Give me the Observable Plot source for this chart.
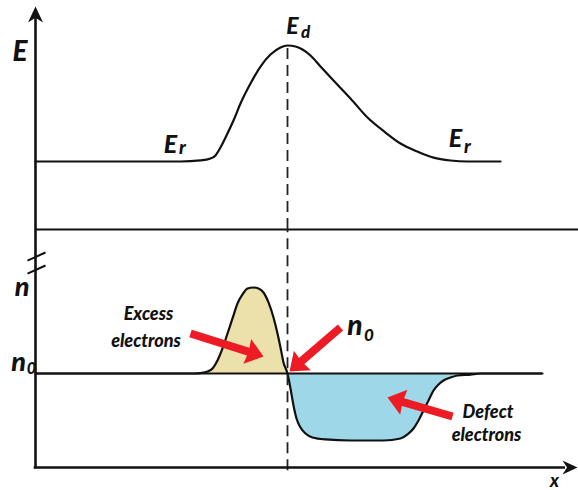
<!DOCTYPE html>
<html><head><meta charset="utf-8">
<script src="https://cdn.jsdelivr.net/npm/d3@7"></script>
<script src="https://cdn.jsdelivr.net/npm/@observablehq/plot@0.6"></script>
<style>
html,body{margin:0;padding:0;background:#fff;overflow:hidden}
#chart{position:relative;width:578px;height:490px}
#chart svg{position:absolute;left:0;top:0;background:transparent}
</style></head><body><div id="chart"></div>
<script>
// Top panel: energy E along position x (Er = 0, Ed = 1)
const eX = [0,65,115,145,165,175,180,185,191,198,205,215,225,235,245,252,260,267,275,285,298,315,332,350,365,382,398,415,432,465];
const eVal = [0,0,0,0,0.009,0.026,0.052,0.121,0.224,0.353,0.5,0.672,0.819,0.922,0.983,1,0.991,0.966,0.914,0.819,0.698,0.543,0.379,0.25,0.155,0.086,0.034,0.009,0,0];
// Bottom panel: electron density n along x (n0 = 0, n = 1)
const nX = [0,160,165,172,177,182,187,192,197,202,207,212,218,223,228,233,238,242,245,248,252,255,258,261,265,270,277,290,315,348,365,372,378,383,388,393,398,403,408,415,422,435,445,507];
const nVal = [0,0,0.006,0.023,0.058,0.151,0.291,0.465,0.64,0.814,0.919,0.988,1,0.988,0.942,0.826,0.651,0.465,0.302,0.128,0,-0.174,-0.372,-0.523,-0.628,-0.698,-0.744,-0.767,-0.779,-0.779,-0.756,-0.709,-0.64,-0.547,-0.43,-0.314,-0.198,-0.128,-0.081,-0.047,-0.023,-0.012,0,0];
const junctionX = 252;
// Annotation arrows (tail -> tip) in the bottom panel
const arrowTail = [[155,0.465],[305,0.535],[417,-0.5]];
const arrowTip = [[228,0.198],[254,0.023],[352,-0.279]];

const ePts = eX.map((x,i) => ({x, v: eVal[i]}));
const nPts = nX.map((x,i) => ({x, v: nVal[i]}));

const W = 578, H = 490;
const xOpts = {domain: [0, 540], range: [35, 575]};
const eOpts = {domain: [-2.836, 1.388], range: [490, 0]};
const nOpts = {domain: [-1.3605, 4.3372], range: [490, 0]};

const font = {fontFamily: "Lato, 'Open Sans', sans-serif", fontWeight: 900, fontStyle: "italic", fill: "#111"};
const label = (x, y, t, size) => Plot.text([{x, y, t}], {x: "x", y: "y", text: "t", fontSize: size, ...font});

const head = (hw, notch) => ({draw(ctx, size) {
  const L = Math.sqrt(size / Math.PI);
  ctx.moveTo(0, 0); ctx.lineTo(-L, -hw * L); ctx.lineTo(-notch * L, 0); ctx.lineTo(-L, hw * L); ctx.closePath();
}});
const axisHead = head(0.47, 0.7);
const redHead = head(0.76, 0.92);

const xs = Plot.scale({x: xOpts}), ns = Plot.scale({y: nOpts});
const HEAD = 17;
const arrows = arrowTail.map(([tx, ty], i) => {
  const [hx, hy] = arrowTip[i];
  const px0 = xs.apply(tx), py0 = ns.apply(ty), px1 = xs.apply(hx), py1 = ns.apply(hy);
  const len = Math.hypot(px1 - px0, py1 - py0);
  const f = (len - HEAD * 0.8) / len;
  return {tx, ty, hx, hy,
    ex: xs.invert(px0 + (px1 - px0) * f), ey: ns.invert(py0 + (py1 - py0) * f),
    angle: Math.atan2(py1 - py0, px1 - px0) * 180 / Math.PI};
});

const common = {width: W, height: H, margin: 0, x: {...xOpts, axis: null}, style: {background: "transparent", overflow: "visible"}};

const energyPlot = Plot.plot({...common, y: {...eOpts, axis: null},
  marks: [
    Plot.ruleY([-0.586], {x1: 0, x2: 543, stroke: "#111", strokeWidth: 2.2}),
    Plot.ruleX([0], {y1: -0.586, y2: 1.25, stroke: "#111", strokeWidth: 2.6}),
    Plot.dot([{x: 0, y: 1.336}], {x: "x", y: "y", r: 16, symbol: axisHead, rotate: -90, fill: "#111", stroke: "none"}),
    Plot.line(ePts, {x: "x", y: "v", curve: "monotone-x", stroke: "#111", strokeWidth: 2.2}),
    Plot.ruleX([junctionX], {y1: -0.586, y2: 1, stroke: "#222", strokeWidth: 1.8, strokeDasharray: "11,6"}),
    label(-15.5, 0.948, "E", 28),
    label(257, 1.165, "E", 23), label(270, 1.108, "d", 17),
    label(135, 0.146, "E", 25), label(147, 0.117, "r", 19),
    label(420, 0.19, "E", 25), label(432, 0.126, "r", 19)
  ]});

const densityPlot = Plot.plot({...common, y: {...nOpts, axis: null},
  marks: [
    Plot.areaY(nPts, {filter: d => d.x >= 160 && d.x <= junctionX, x: "x", y1: 0, y2: "v", curve: "monotone-x", fill: "#ece0ab"}),
    Plot.areaY(nPts, {filter: d => d.x >= junctionX && d.x <= 445, x: "x", y1: 0, y2: "v", curve: "monotone-x", fill: "#9ed8e8"}),
    Plot.ruleY([0], {x1: 0, x2: 507, stroke: "#111", strokeWidth: 2}),
    Plot.line(nPts, {x: "x", y: "v", curve: "monotone-x", stroke: "#111", strokeWidth: 2.2}),
    Plot.ruleX([junctionX], {y1: -1.13, y2: 1.674, stroke: "#222", strokeWidth: 1.8, strokeDasharray: "11,6"}),
    Plot.ruleX([0], {y1: -1.108, y2: 1.674, stroke: "#111", strokeWidth: 2.6}),
    Plot.ruleY([-1.093], {x1: -1.3, x2: 530, stroke: "#111", strokeWidth: 2.6}),
    Plot.dot([{x: 542, y: -1.093}], {x: "x", y: "y", r: 15, symbol: axisHead, rotate: 0, fill: "#111", stroke: "none"}),
    Plot.link([{c: 1.36}, {c: 1.209}], {x1: -8, x2: 10, y1: d => d.c - 0.047, y2: d => d.c + 0.047, stroke: "#111", strokeWidth: 2}),
    label(-13.5, 1.003, "n", 27),
    label(-17, 0.131, "n", 27), label(-4, 0.055, "0", 16),
    label(319.5, 0.547, "n", 28), label(333.5, 0.44, "0", 17),
    label(113, 0.685, "Excess", 18), label(110.5, 0.376, "electrons", 18),
    label(452.5, -0.455, "Defect", 18), label(451, -0.716, "electrons", 18),
    label(519, -1.258, "x", 18),
    Plot.link(arrows, {x1: "tx", y1: "ty", x2: "ex", y2: "ey", stroke: "#ed1c24", strokeWidth: 8}),
    Plot.dot(arrows, {x: "hx", y: "hy", r: HEAD, symbol: redHead, rotate: "angle", fill: "#ed1c24", stroke: "none"})
  ]});

document.getElementById("chart").append(energyPlot, densityPlot);
</script></body></html>
